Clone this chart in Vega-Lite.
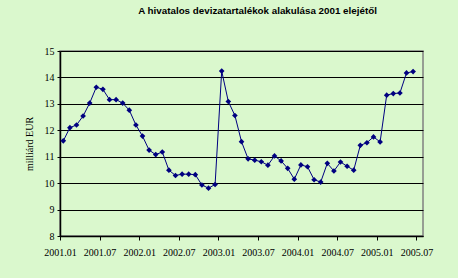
{
  "$schema": "https://vega.github.io/schema/vega-lite/v6.json",
  "autosize": "none",
  "width": 363,
  "height": 185,
  "padding": {"left": 60, "top": 51, "right": 35, "bottom": 42},
  "background": "#daf8cd",
  "title": {
    "text": "A hivatalos devizatartalékok alakulása 2001 elejétől",
    "font": "Liberation Sans",
    "fontSize": 9.8,
    "fontWeight": "bold",
    "color": "#000000",
    "anchor": "middle",
    "frame": "group",
    "dx": 16,
    "offset": 30
  },
  "config": {
    "view": {"stroke": "#808080", "strokeWidth": 1.5},
    "axis": {
      "labelFont": "Liberation Serif",
      "labelFontSize": 10,
      "labelColor": "#000000",
      "titleFont": "Liberation Serif",
      "titleFontSize": 10,
      "titleFontWeight": "normal",
      "titleColor": "#000000",
      "domainColor": "#000000",
      "tickColor": "#000000"
    }
  },
  "data": {
    "values": [
      {"month": "2001.01", "value": 11.6},
      {"month": "2001.02", "value": 12.1},
      {"month": "2001.03", "value": 12.2},
      {"month": "2001.04", "value": 12.54},
      {"month": "2001.05", "value": 13.03},
      {"month": "2001.06", "value": 13.63},
      {"month": "2001.07", "value": 13.55},
      {"month": "2001.08", "value": 13.16},
      {"month": "2001.09", "value": 13.16},
      {"month": "2001.10", "value": 13.03},
      {"month": "2001.11", "value": 12.76},
      {"month": "2001.12", "value": 12.2},
      {"month": "2002.01", "value": 11.78},
      {"month": "2002.02", "value": 11.25},
      {"month": "2002.03", "value": 11.08},
      {"month": "2002.04", "value": 11.18},
      {"month": "2002.05", "value": 10.49},
      {"month": "2002.06", "value": 10.29},
      {"month": "2002.07", "value": 10.34},
      {"month": "2002.08", "value": 10.34},
      {"month": "2002.09", "value": 10.32},
      {"month": "2002.10", "value": 9.93},
      {"month": "2002.11", "value": 9.81},
      {"month": "2002.12", "value": 9.95},
      {"month": "2003.01", "value": 14.24},
      {"month": "2003.02", "value": 13.09},
      {"month": "2003.03", "value": 12.56},
      {"month": "2003.04", "value": 11.57},
      {"month": "2003.05", "value": 10.92},
      {"month": "2003.06", "value": 10.87},
      {"month": "2003.07", "value": 10.81},
      {"month": "2003.08", "value": 10.68},
      {"month": "2003.09", "value": 11.03},
      {"month": "2003.10", "value": 10.84},
      {"month": "2003.11", "value": 10.56},
      {"month": "2003.12", "value": 10.15},
      {"month": "2004.01", "value": 10.69},
      {"month": "2004.02", "value": 10.62},
      {"month": "2004.03", "value": 10.13},
      {"month": "2004.04", "value": 10.04},
      {"month": "2004.05", "value": 10.75},
      {"month": "2004.06", "value": 10.46},
      {"month": "2004.07", "value": 10.8},
      {"month": "2004.08", "value": 10.64},
      {"month": "2004.09", "value": 10.49},
      {"month": "2004.10", "value": 11.43},
      {"month": "2004.11", "value": 11.53},
      {"month": "2004.12", "value": 11.75},
      {"month": "2005.01", "value": 11.56},
      {"month": "2005.02", "value": 13.33},
      {"month": "2005.03", "value": 13.39},
      {"month": "2005.04", "value": 13.41},
      {"month": "2005.05", "value": 14.17},
      {"month": "2005.06", "value": 14.22}
    ]
  },
  "encoding": {
    "x": {
      "field": "month",
      "type": "ordinal",
      "sort": null,
      "scale": {
        "type": "point",
        "padding": 0.5,
        "domain": ["2001.01","2001.02","2001.03","2001.04","2001.05","2001.06","2001.07","2001.08","2001.09","2001.10","2001.11","2001.12",
                   "2002.01","2002.02","2002.03","2002.04","2002.05","2002.06","2002.07","2002.08","2002.09","2002.10","2002.11","2002.12",
                   "2003.01","2003.02","2003.03","2003.04","2003.05","2003.06","2003.07","2003.08","2003.09","2003.10","2003.11","2003.12",
                   "2004.01","2004.02","2004.03","2004.04","2004.05","2004.06","2004.07","2004.08","2004.09","2004.10","2004.11","2004.12",
                   "2005.01","2005.02","2005.03","2005.04","2005.05","2005.06","2005.07"]
      },
      "axis": {
        "title": null,
        "values": ["2001.01","2001.07","2002.01","2002.07","2003.01","2003.07","2004.01","2004.07","2005.01","2005.07"],
        "labelAngle": 0,
        "tickOffset": -3.3,
        "tickSize": 4,
        "labelPadding": 7,
        "grid": false,
        "domainWidth": 1.5
      }
    },
    "y": {
      "field": "value",
      "type": "quantitative",
      "scale": {"domain": [8, 15], "nice": false, "zero": false},
      "axis": {
        "title": "milliárd EUR",
        "values": [8, 9, 10, 11, 12, 13, 14, 15],
        "tickSize": 3,
        "labelPadding": 3,
        "titlePadding": 10,
        "grid": true,
        "gridColor": "#000000",
        "gridOpacity": 1,
        "gridWidth": 1,
        "domainWidth": 1.5
      }
    }
  },
  "layer": [
    {"mark": {"type": "line", "color": "#000080", "strokeWidth": 1}},
    {"mark": {"type": "point", "shape": "diamond", "filled": true, "color": "#000080", "opacity": 1, "size": 32}}
  ]
}
